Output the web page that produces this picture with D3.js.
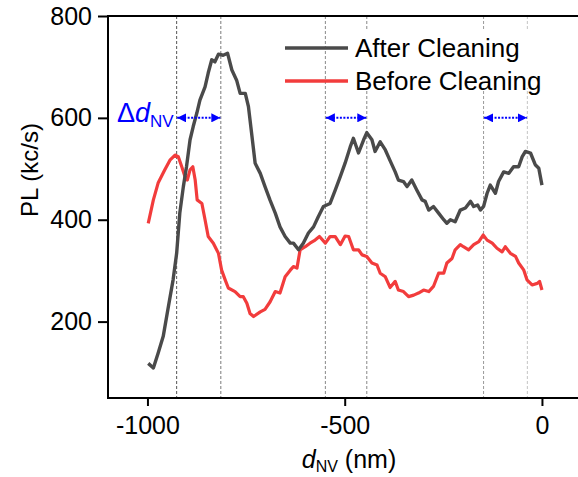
<!DOCTYPE html>
<html>
<head>
<meta charset="utf-8">
<script src="https://cdn.jsdelivr.net/npm/d3@7"></script>
<style>
  html, body { margin: 0; padding: 0; background: #fff; }
  svg { display: block; font-family: "Liberation Sans", Arial, sans-serif; }
</style>
</head>
<body>
<svg id="chart" width="578" height="477"></svg>
<script>
// PL profile along d_NV, after cleaning (nm, kc/s)
const afterX = [-998,-985,-973,-960,-947,-935,-926,-918,-909,-901,-892,-884,-875,-867,-854,-846,-837,-829,-820,-808,-797,-786,-774,-765,-752,-744,-736,-727,-714,-702,-689,-676,-664,-651,-638,-630,-617,-605,-592,-579,-567,-554,-537,-524,-511,-499,-486,-478,-465,-452,-444,-431,-423,-410,-397,-385,-372,-364,-351,-342,-330,-317,-304,-296,-287,-275,-262,-249,-241,-232,-220,-207,-194,-181,-173,-163,-156,-148,-139,-131,-118,-110,-97,-84,-72,-59,-50,-42,-29,-17,-8,0];
const afterY = [118,109,138,171,229,282,334,413,465,504,557,583,609,635,661,688,714,710,725,723,727,694,674,648,648,622,570,511,491,465,438,413,386,367,354,354,341,354,374,386,406,426,432,458,485,511,543,560,531,557,571,557,534,553,537,516,494,478,475,465,478,458,439,436,419,426,413,400,393,400,396,419,423,436,426,429,419,426,452,468,452,475,494,491,504,504,524,534,531,508,501,468];

// PL profile along d_NV, before cleaning (nm, kc/s)
const beforeX = [-998,-985,-973,-956,-943,-930,-922,-913,-905,-899,-892,-885,-879,-874,-862,-854,-846,-833,-820,-812,-803,-795,-778,-765,-757,-748,-740,-731,-714,-702,-689,-676,-664,-651,-638,-630,-621,-613,-600,-588,-575,-564,-549,-537,-524,-511,-499,-490,-478,-465,-456,-444,-431,-418,-410,-397,-385,-372,-364,-351,-338,-325,-313,-300,-287,-275,-262,-249,-241,-228,-220,-207,-199,-186,-173,-160,-149,-139,-126,-114,-101,-93,-80,-67,-59,-46,-38,-25,-12,-6,0];
const beforeY = [393,439,472,498,517,527,524,504,485,478,498,504,478,439,432,400,367,354,334,301,282,266,259,249,249,236,216,210,219,224,239,259,256,288,301,308,305,341,347,354,360,367,354,367,367,351,368,367,341,341,331,328,315,311,295,288,267,279,262,259,249,252,256,262,259,269,295,295,315,324,341,351,347,341,351,357,370,360,354,344,337,347,334,328,315,301,282,272,275,279,262];

// Peak positions marked by guide lines (nm), paired for the Δd_NV arrows
const guideX = [-926, -814, -549, -444, -148, -37];
const arrowPairs = [[-926, -814], [-549, -444], [-148, -37]];
const arrowLevel = 600;

const xTicks = [-1000, -500, 0];
const yTicks = [200, 400, 600, 800];
const seriesNames = ["After Cleaning", "Before Cleaning"];

const svg = d3.select("#chart");
const x = d3.scaleLinear().domain([-1100, 100]).range([108, 581.4]);
const y = d3.scaleLinear().domain([50, 800]).range([398, 16]);

const grayC = "#4a4a4a", redC = "#f23c3c", blueC = "#0000ff";
const guideColors = ["#555", "#7a7a7a", "#888", "#888", "#999", "#c4c4c4"];

// vertical dotted guides
svg.append("g").selectAll("line").data(guideX).join("line")
  .attr("x1", d => x(d)).attr("x2", d => x(d))
  .attr("y1", y(800)).attr("y2", y(50))
  .attr("stroke", (d, i) => guideColors[i])
  .attr("stroke-width", 1)
  .attr("stroke-dasharray", "3,2");

// curves
const line = d3.line().x(d => x(d[0])).y(d => y(d[1])).curve(d3.curveLinear);
const afterPts = afterX.map((v, i) => [v, afterY[i]]);
const beforePts = beforeX.map((v, i) => [v, beforeY[i]]);
svg.append("path").datum(beforePts).attr("d", line)
  .attr("fill", "none").attr("stroke", redC).attr("stroke-width", 3.2)
  .attr("stroke-linejoin", "round");
svg.append("path").datum(afterPts).attr("d", line)
  .attr("fill", "none").attr("stroke", grayC).attr("stroke-width", 3.4)
  .attr("stroke-linejoin", "round");

// frame
svg.append("rect")
  .attr("x", x(-1100)).attr("y", y(800))
  .attr("width", x(100) - x(-1100)).attr("height", y(50) - y(800))
  .attr("fill", "none").attr("stroke", "#000").attr("stroke-width", 2);

// axes
const xAxis = svg.append("g").attr("transform", `translate(0,${y(50)})`)
  .call(d3.axisBottom(x).tickValues(xTicks).tickSize(8).tickPadding(10).tickFormat(d3.format("d")));
const yAxis = svg.append("g").attr("transform", `translate(${x(-1100)},0)`)
  .call(d3.axisLeft(y).tickValues(yTicks).tickSize(10).tickPadding(6));
[xAxis, yAxis].forEach(g => {
  g.select(".domain").remove();
  g.selectAll(".tick line").attr("stroke", "#000").attr("stroke-width", 2);
  g.selectAll(".tick text").attr("fill", "#000")
    .style("font-family", "'Liberation Sans', Arial, sans-serif").style("font-size", "25px");
});
xAxis.selectAll(".tick text").text(d => d < 0 ? "-" + Math.abs(d) : d);

// axis titles
svg.append("text")
  .attr("transform", `translate(38,170) rotate(-90)`)
  .attr("text-anchor", "middle")
  .style("font-size", "24px").attr("fill", "#000")
  .text("PL (kc/s)");
const xt = svg.append("text").attr("x", 349).attr("y", 468)
  .attr("text-anchor", "middle").style("font-size", "25px").attr("fill", "#000");
xt.append("tspan").attr("font-style", "italic").text("d");
xt.append("tspan").attr("dy", 4).style("font-size", "16px").text("NV");
xt.append("tspan").attr("dy", -4).text(" (nm)");

// legend
svg.append("rect").attr("x", 351).attr("y", 31).attr("width", 215).attr("height", 57).attr("fill", "#fff");
const legend = svg.append("g");
[grayC, redC].forEach((c, i) => {
  const ly = 48 + i * 33;
  legend.append("line").attr("x1", 285).attr("x2", 348).attr("y1", ly).attr("y2", ly)
    .attr("stroke", c).attr("stroke-width", 3.4);
  legend.append("text").attr("x", 355).attr("y", ly + 9)
    .style("font-size", "26px").attr("fill", "#000").text(seriesNames[i]);
});

// Δd_NV double arrows
const defs = svg.append("defs");
defs.append("marker").attr("id", "ah").attr("viewBox", "0 0 10 10")
  .attr("refX", 10).attr("refY", 5).attr("markerWidth", 9).attr("markerHeight", 9)
  .attr("markerUnits", "userSpaceOnUse").attr("orient", "auto-start-reverse")
  .append("path").attr("d", "M0,0 L10,5 L0,10 Z").attr("fill", blueC);
svg.append("g").selectAll("line").data(arrowPairs).join("line")
  .attr("x1", d => x(d[0]) + 0.5).attr("x2", d => x(d[1]) - 0.5)
  .attr("y1", y(arrowLevel)).attr("y2", y(arrowLevel))
  .attr("stroke", blueC).attr("stroke-width", 2).attr("stroke-dasharray", "2,1.5")
  .attr("marker-start", "url(#ah)").attr("marker-end", "url(#ah)");

const dl = svg.append("text").attr("x", 117).attr("y", 122).attr("fill", blueC)
  .style("font-size", "27px");
dl.append("tspan").text("Δ");
dl.append("tspan").attr("font-style", "italic").text("d");
dl.append("tspan").attr("dy", 5).style("font-size", "17px").text("NV");
</script>
</body>
</html>
